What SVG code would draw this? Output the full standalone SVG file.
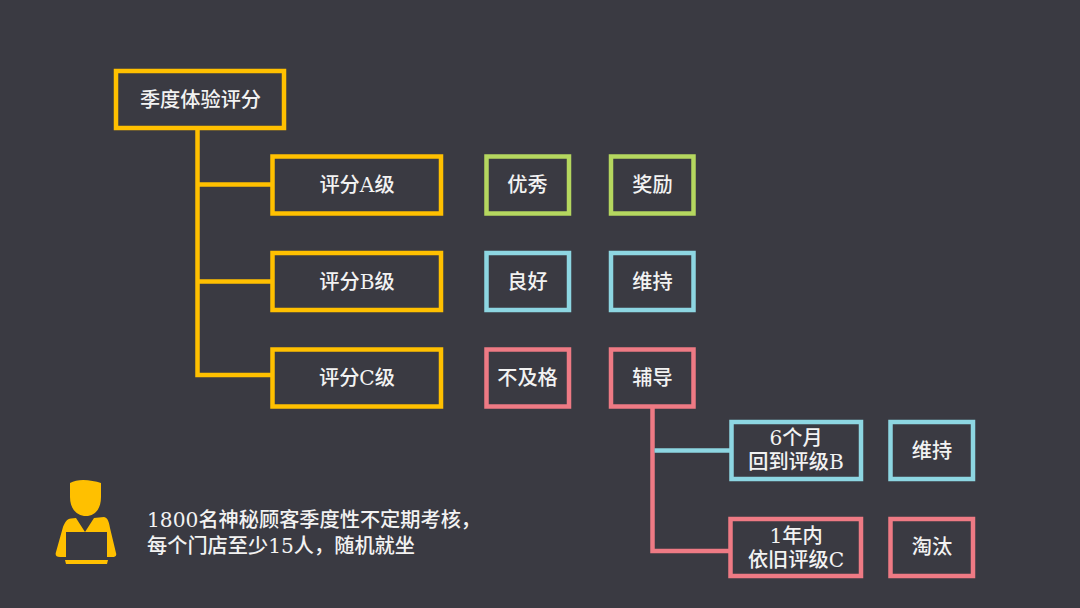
<svg xmlns="http://www.w3.org/2000/svg" width="1080" height="608" viewBox="0 0 1080 608">
<style>
text{font-family:"DejaVu Serif","Noto Sans CJK SC",serif;font-size:20.2px;font-weight:500;fill:#f2f2f2;text-anchor:middle}
.b{fill:none;stroke-width:4.500}
.y{stroke:#ffc000}.g{stroke:#b5d75f}.c{stroke:#8dd6e2}.r{stroke:#ee7a84}
.l{fill:none;stroke-width:4.500}
</style>
<rect width="1080" height="608" fill="#3a3a42"/>
<g id="connectors">
<path class="l y" d="M197.500 130V375H271M197.500 184.500H271M197.500 281.500H271"/>
<path class="l r" d="M652.500 407V551H730"/>
<path class="l c" d="M654.500 450.500H730"/>
</g>
<g id="n-root"><rect class="b y" x="116" y="71" width="168" height="57"/><text x="200.500" y="106.500">季度体验评分</text></g>
<g id="n-a"><rect class="b y" x="272.500" y="156.500" width="168.500" height="57"/><text x="357" y="191.500">评分A级</text></g>
<g id="n-b"><rect class="b y" x="272.500" y="253" width="168.500" height="57"/><text x="357" y="288.500">评分B级</text></g>
<g id="n-c"><rect class="b y" x="272.500" y="349.500" width="168.500" height="57"/><text x="357" y="384.500">评分C级</text></g>
<g id="n-excellent"><rect class="b g" x="486.500" y="156.500" width="82.500" height="57"/><text x="527.500" y="191.500">优秀</text></g>
<g id="n-reward"><rect class="b g" x="611" y="156.500" width="82.500" height="57"/><text x="652.500" y="191.500">奖励</text></g>
<g id="n-good"><rect class="b c" x="486.500" y="253" width="82.500" height="57"/><text x="527.500" y="288.500">良好</text></g>
<g id="n-keep1"><rect class="b c" x="611" y="253" width="82.500" height="57"/><text x="652.500" y="288.500">维持</text></g>
<g id="n-fail"><rect class="b r" x="486.500" y="349.500" width="82.500" height="57"/><text x="527.500" y="384.500">不及格</text></g>
<g id="n-coach"><rect class="b r" x="611" y="349.500" width="82.500" height="57"/><text x="652.500" y="384.500">辅导</text></g>
<g id="n-6m"><rect class="b c" x="731.500" y="422" width="129.500" height="57"/><text x="796" y="445">6个月</text><text x="796" y="469">回到评级B</text></g>
<g id="n-keep2"><rect class="b c" x="890.500" y="422" width="82.500" height="57"/><text x="932" y="457.500">维持</text></g>
<g id="n-1y"><rect class="b r" x="730.500" y="519" width="130.500" height="57"/><text x="796" y="543">1年内</text><text x="796" y="567">依旧评级C</text></g>
<g id="n-out"><rect class="b r" x="890.500" y="519" width="82.500" height="57"/><text x="932" y="553.500">淘汰</text></g>
<g id="note">
<path fill="#ffc000" d="M70 483C78 478 92 480 101 483L101 497C101 510 94 516 86 516C78 516 70 510 70 497ZM76 518L85 532L94 518L104 517C108 518 109 522 110 528L116 553C117 556 115 557 112 557H107V532H66V557H60C56 557 55 555 56 552L63 527C65 522 67 519 71 518.500ZM65 560H108L107 564H66Z"/>
<text x="147" y="527" style="text-anchor:start">1800名神秘顾客季度性不定期考核，</text>
<text x="147" y="553" style="text-anchor:start">每个门店至少15人，随机就坐</text>
</g>
</svg>
